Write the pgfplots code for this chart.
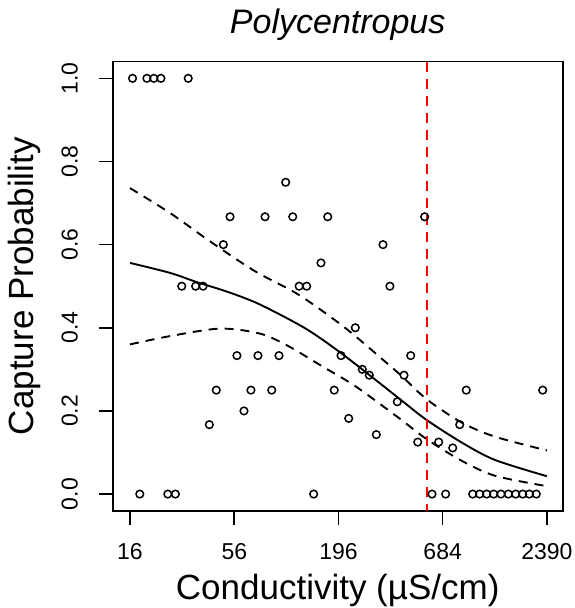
\documentclass[border=0pt]{standalone}
\usepackage{pgfplots}
\pgfplotsset{compat=1.18}
\usepackage{fontspec}
\setmainfont{Liberation Sans}
\begin{document}
\begin{tikzpicture}
\begin{axis}[
  at={(0,0)}, anchor=south west,
  width=450pt, height=449pt, scale only axis,
  xmode=log, xmin=13.0, xmax=2892, ymin=-0.04, ymax=1.04,
  xtick={16,56,196,684,2390},
  xticklabels={16,56,196,684,2390},
  ytick={0,0.2,0.4,0.6,0.8,1.0},
  yticklabels={0.0,0.2,0.4,0.6,0.8,1.0},
  xminorticks=false, yminorticks=false,
  xtick pos=bottom, ytick pos=left,
  tick align=outside,
  major tick length=14pt,
  every tick/.style={black, line width=1.6pt},
  axis line style={line width=1.6pt},
  ticklabel style={font=\fontsize{23}{23}\selectfont},
  xticklabel style={anchor=base, yshift=-35pt},
  yticklabel style={rotate=90, anchor=base, yshift=21pt},
  xlabel={Conductivity (µS/cm)},
  ylabel={Capture Probability},
  label style={font=\fontsize{35}{35}\selectfont},
  xlabel style={at={(axis description cs:0.5,0)}, anchor=base, yshift=-89pt},
  ylabel style={at={(axis description cs:0,0.5)}, anchor=base, yshift=79pt},
  title={\itshape Polycentropus},
  title style={font=\fontsize{34}{34}\selectfont, at={(axis description cs:0.5,1)}, anchor=base, yshift=22pt},
]
% observations
\addplot[only marks, mark=o, mark size=3.8pt, line width=1.5pt, black] coordinates {
(16.5,1) (19.6,1) (21.3,1) (23.2,1) (32.2,1)
(103.8,0.75)
(53.2,0.667) (81.0,0.667) (113,0.667) (172,0.667) (551,0.667)
(49.1,0.6) (334,0.6)
(158.6,0.556)
(29.8,0.5) (35.2,0.5) (38.5,0.5) (122,0.5) (133.6,0.5) (363,0.5)
(239.5,0.4)
(57.8,0.333) (74.4,0.333) (95.8,0.333) (201.8,0.333) (466,0.333)
(260.5,0.3)
(283.4,0.286) (430,0.286)
(45.1,0.25) (68.4,0.25) (87.8,0.25) (186,0.25) (908,0.25) (2274,0.25)
(396.8,0.222)
(62.9,0.2)
(221.3,0.182)
(41.5,0.167) (839.5,0.167)
(308.3,0.143)
(507,0.125) (652,0.125)
(772,0.111)
(18.0,0) (25.2,0) (27.6,0) (145.3,0) (602,0) (709,0) (981,0) (1067,0) (1161,0) (1262,0)
(1378,0) (1505,0) (1645,0) (1789,0) (1936,0) (2106,0)
};
% fitted curve
\addplot[black, line width=1.9pt, smooth] coordinates {
(16,0.556) (25.9,0.532) (35.6,0.510) (52,0.486) (76.2,0.456) (130.9,0.399) (195.4,0.344)
(291.7,0.282) (426,0.222) (565,0.178) (860,0.124) (1283,0.082) (2390,0.043)
};
% upper bound
\addplot[black, line width=1.9pt, smooth, dash pattern=on 9pt off 7pt] coordinates {
(16,0.736) (25.9,0.676) (41.8,0.608) (71.8,0.536) (120.8,0.48) (211.7,0.40)
(356,0.312) (418,0.284) (565,0.228) (860,0.172) (1283,0.138) (2390,0.105)
};
% lower bound
\addplot[black, line width=1.9pt, smooth, dash pattern=on 9pt off 7pt] coordinates {
(16,0.360) (25.9,0.380) (47.2,0.398) (76.2,0.386) (107.1,0.356) (160,0.308)
(238.7,0.26) (401.4,0.184) (565,0.132) (860,0.08) (1283,0.044) (2390,0.019)
};
% threshold
\addplot[red, line width=1.9pt, dash pattern=on 10pt off 7pt] coordinates {(565,1.04) (565,-0.04)};
\end{axis}
\pgfresetboundingbox
\useasboundingbox (-112.7pt,-97.3pt) rectangle (462.3pt,510.7pt);
\end{tikzpicture}
\end{document}
